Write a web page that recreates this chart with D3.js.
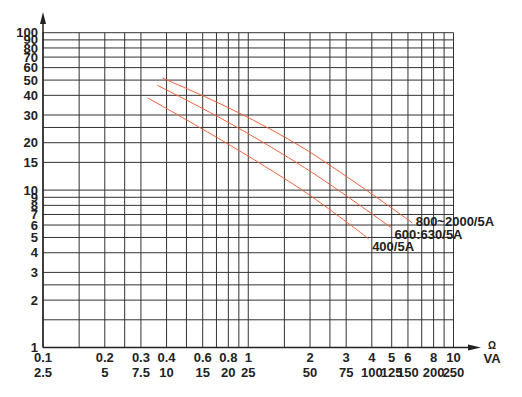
<!DOCTYPE html>
<html>
<head>
<meta charset="utf-8">
<script src="https://cdn.jsdelivr.net/npm/d3@7"></script>
<style>
  body { margin: 0; background: #fff; }
  svg text { font-family: "Liberation Sans", Arial, sans-serif; font-weight: bold; font-size: 13px; fill: #222; }
</style>
</head>
<body>
<figure id="chart" style="margin:0"></figure>
<script>
// grid values
const xGrid = [0.1, 0.15, 0.2, 0.25, 0.3, 0.4, 0.5, 0.6, 0.7, 0.8, 0.9, 1, 1.5, 2, 2.5, 3, 4, 5, 6, 7, 8, 9, 10];
const yGrid = [1, 1.5, 2, 2.5, 3, 4, 5, 6, 7, 8, 9, 10, 15, 20, 25, 30, 40, 50, 60, 70, 80, 90, 100];

// tick labels
const ohmTicks = [0.1, 0.2, 0.3, 0.4, 0.6, 0.8, 1, 2, 3, 4, 5, 6, 8, 10];
const vaTicks = ["2.5", "5", "7.5", "10", "15", "20", "25", "50", "75", "100", "125", "150", "200", "250"];
const yTicks = [1, 2, 3, 4, 5, 6, 7, 8, 9, 10, 15, 20, 30, 40, 50, 60, 70, 80, 90, 100];

// curves (ohm, multiple)
const seriesNames = ["800~2000/5A", "600:630/5A", "400/5A"];
const s800 = [[0.382, 51.5], [0.805, 33.8], [1.696, 20.1], [2.33, 15.3], [3.39, 11.0], [4.93, 7.8], [6.29, 6.2]];
const s600 = [[0.361, 46.3], [0.781, 27.8], [1.696, 15.2], [2.33, 11.6], [3.39, 8.25], [5.02, 5.72]];
const s400 = [[0.324, 38.5], [0.738, 21.0], [1.696, 10.8], [2.33, 8.04], [3.39, 5.6], [3.86, 4.9]];

const width = 522, height = 397;
const lineColor = "#333";
const curveColor = "#f0623a";
// label offsets from each curve's last point
const labelOffsets = [[3.5, 3.5], [2.5, 11], [3.5, 12]];

const svg = d3.select("#chart").append("svg")
  .attr("width", width)
  .attr("height", height);

const x = d3.scaleLog().domain([0.1, 10]).range([43, 453.5]);
const y = d3.scaleLog().domain([1, 100]).range([347.5, 32.7]);

// grid
svg.selectAll(".vgrid")
  .data(xGrid)
  .enter()
  .append("line")
  .attr("x1", d => x(d)).attr("x2", d => x(d))
  .attr("y1", y(1)).attr("y2", y(100))
  .attr("stroke", lineColor)
  .attr("stroke-width", 1);

svg.selectAll(".hgrid")
  .data(yGrid)
  .enter()
  .append("line")
  .attr("x1", x(0.1)).attr("x2", x(10))
  .attr("y1", d => y(d)).attr("y2", d => y(d))
  .attr("stroke", lineColor)
  .attr("stroke-width", 1);

// axes with arrows
svg.append("line")
  .attr("x1", x(0.1)).attr("x2", x(0.1))
  .attr("y1", y(1)).attr("y2", 22)
  .attr("stroke", "#222").attr("stroke-width", 1.5);
svg.append("path")
  .attr("d", `M${x(0.1)},12 L${x(0.1) - 3},24 L${x(0.1) + 3},24 Z`)
  .attr("fill", "#222");

svg.append("line")
  .attr("x1", x(0.1)).attr("x2", 470)
  .attr("y1", y(1)).attr("y2", y(1))
  .attr("stroke", "#222").attr("stroke-width", 1.5);
svg.append("path")
  .attr("d", `M481,${y(1)} L468,${y(1) - 3} L468,${y(1) + 3} Z`)
  .attr("fill", "#222");

// y labels
svg.selectAll(".ylab")
  .data(yTicks)
  .enter()
  .append("text")
  .attr("x", 38)
  .attr("y", d => y(d))
  .attr("dy", "0.35em")
  .attr("text-anchor", "end")
  .text(d => d);

// x labels
svg.selectAll(".xlab")
  .data(ohmTicks)
  .enter()
  .append("text")
  .attr("x", d => x(d))
  .attr("y", 362)
  .attr("text-anchor", "middle")
  .text(d => d);

svg.selectAll(".valab")
  .data(ohmTicks)
  .enter()
  .append("text")
  .attr("x", d => x(d))
  .attr("y", 377)
  .attr("text-anchor", "middle")
  .text((d, i) => vaTicks[i]);

svg.append("text").attr("x", 492).attr("y", 349)
  .attr("text-anchor", "middle").style("font-size", "10px").text("Ω");
svg.append("text").attr("x", 492).attr("y", 363)
  .attr("text-anchor", "middle").text("VA");

// curves, smoothed
const line = d3.line()
  .x(d => x(d[0]))
  .y(d => y(d[1]))
  .curve(d3.curveBasis);

const allSeries = [s800, s600, s400];
svg.selectAll(".curve")
  .data(allSeries)
  .enter()
  .append("path")
  .attr("d", line)
  .attr("fill", "none")
  .attr("stroke", curveColor)
  .attr("stroke-width", 1);

// curve labels at the end of each line
svg.selectAll(".clab")
  .data(allSeries)
  .enter()
  .append("text")
  .attr("x", (d, i) => x(d[d.length - 1][0]) + labelOffsets[i][0])
  .attr("y", (d, i) => y(d[d.length - 1][1]) + labelOffsets[i][1])
  .text((d, i) => seriesNames[i]);
</script>
</body>
</html>
